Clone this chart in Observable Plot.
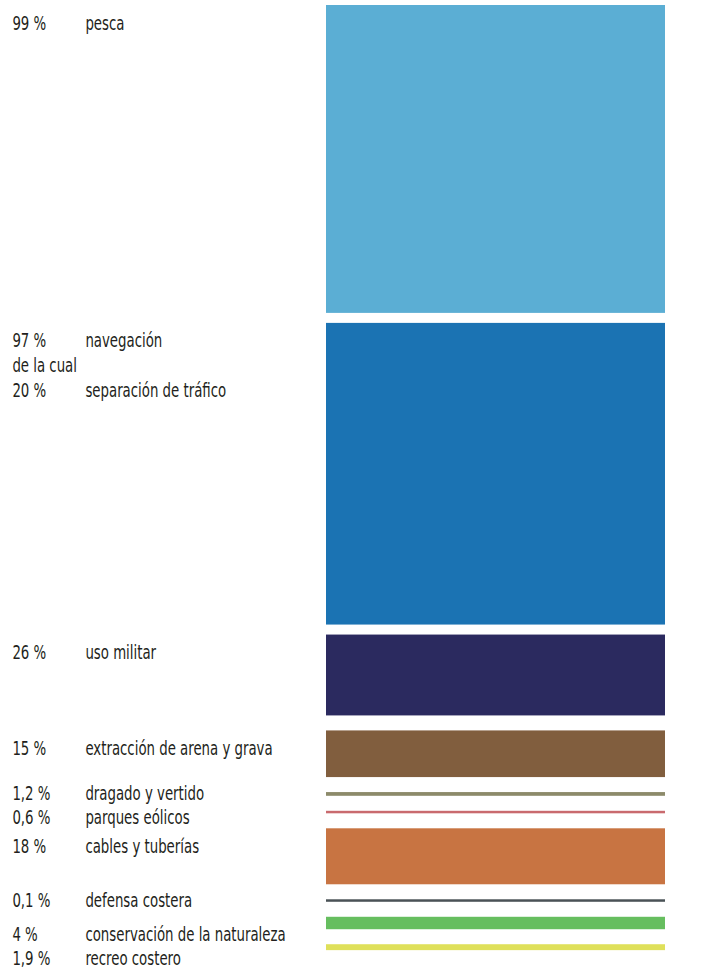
<!DOCTYPE html>
<html>
<head>
<meta charset="utf-8">
<script src="https://cdn.jsdelivr.net/npm/d3@7"></script>
<script src="https://cdn.jsdelivr.net/npm/@observablehq/plot@0.6"></script>
<style>
  body { margin: 0; background: #fff; }
  svg text { font-family: "DejaVu Sans Condensed", "DejaVu Sans", sans-serif; }
</style>
</head>
<body>
<div id="chart"></div>
<script>
// Data
const categories = ["pesca", "navegación", "uso militar", "extracción de arena y grava", "dragado y vertido",
  "parques eólicos", "cables y tuberías", "defensa costera", "conservación de la naturaleza", "recreo costero"];
const values = [99, 97, 26, 15, 1.2, 0.6, 18, 0.1, 4, 1.9];
const subValues = [null, 20, null, null, null, null, null, null, null, null];
const subLabels = [null, "separación de tráfico", null, null, null, null, null, null, null, null];
const subIntro = "de la cual";
const colors = ["#5baed4", "#1b73b3", "#2b2a5f", "#815e3e", "#8c8a6a", "#c96a6e", "#c87442", "#4a5256", "#66be5f", "#dfe05a"];

// Layout constants
const k = 3.11;          // px per percentage point
const top0 = 5;          // px
const minPx = 2.5;       // thinnest visible band
const gapPx = i => (i < 2 ? 10 : 15);
const fontSize = 19, lineHeight = 1.3, lineStep = fontSize * lineHeight;
const thickOffset = 24;  // baseline below band top for thick bands
const minLabelStep = 24; // px between successive label rows
const squeeze = 0.78;    // horizontal condensing of text
const fmt = v => String(v).replace(".", ",") + " %";

let pos = 0, lastBaseline = -Infinity;
const rows = values.map((v, i) => {
  const hPx = Math.max(v * k, minPx);
  const y1 = pos, y2 = pos + hPx / k;
  pos = y2 + gapPx(i) / k;
  const hasSub = subValues[i] != null;
  const nLines = hasSub ? 3 : 1;
  const topPx = top0 + y1 * k, midPx = top0 + (y1 + y2) / 2 * k;
  let first = hPx >= 10 ? topPx + thickOffset : midPx + 6;
  first = Math.max(first, lastBaseline + minLabelStep);
  lastBaseline = first + (nLines - 1) * lineStep;
  return {
    name: categories[i], value: v, color: colors[i], y1, y2, x1: 0, x2: 1,
    yLabel: (lastBaseline - top0) / k,
    pct: fmt(v) + (hasSub ? "\n" + subIntro + "\n" + fmt(subValues[i]) : ""),
    label: categories[i] + (hasSub ? "\n\n" + subLabels[i] : "")
  };
});
const total = pos;

const textOpts = {frameAnchor: "left", textAnchor: "start", fontSize, fill: "#231f20",
  lineHeight, lineAnchor: "bottom", y: "yLabel"};
const pctX = 12, labX = 85, left = 326;

const chart = Plot.plot({
  width: 706,
  height: 970,
  marginLeft: left,
  marginRight: 41,
  marginTop: 0,
  marginBottom: 0,
  x: {domain: [0, 1], axis: null},
  y: {domain: [0, total], range: [top0, top0 + total * k], axis: null},
  color: {type: "identity"},
  marks: [
    Plot.rect(rows, {x1: "x1", x2: "x2", y1: "y1", y2: "y2", fill: "color"}),
    Plot.text(rows, {...textOpts, text: "pct", dx: pctX - left}),
    Plot.text(rows, {...textOpts, text: "label", dx: labX - left})
  ]
});

// condense the text columns horizontally around their left edges
const textGroups = Array.from(chart.querySelectorAll('g[aria-label="text"]'));
[pctX, labX].forEach((x0, j) => {
  const g = textGroups[j];
  if (!g) return;
  const wrap = document.createElementNS("http://www.w3.org/2000/svg", "g");
  wrap.setAttribute("transform", `translate(${x0},0) scale(${squeeze},1) translate(${-x0},0)`);
  g.parentNode.insertBefore(wrap, g);
  wrap.appendChild(g);
});
document.getElementById("chart").appendChild(chart);
</script>
</body>
</html>
